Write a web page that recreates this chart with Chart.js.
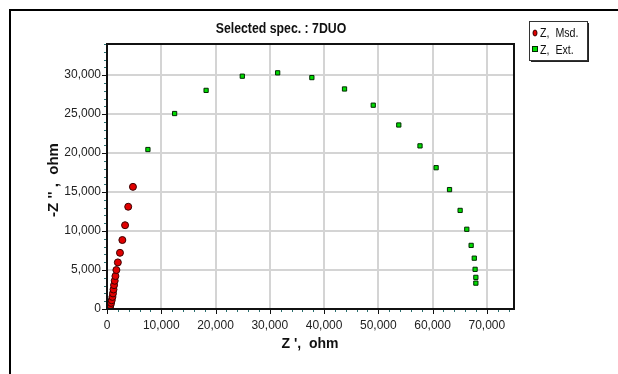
<!DOCTYPE html>
<html>
<head>
<meta charset="utf-8">
<script src="https://cdn.jsdelivr.net/npm/chart.js@4/dist/chart.umd.min.js"></script>
<style>
  html, body { margin: 0; padding: 0; background: #fff; }
  #wrap { width: 618px; height: 374px; }
</style>
</head>
<body>
<div id="wrap"><canvas id="nyquist" width="618" height="374"></canvas></div>
<script>
// measured impedance, ohm
const msdRe = [450, 520, 630, 750, 870, 1000, 1100, 1200, 1300, 1420, 1550, 1730, 2000, 2390, 2830, 3330, 3910, 4780];
const msdIm = [120, 260, 480, 780, 1120, 1550, 2000, 2500, 3060, 3620, 4220, 5000, 5980, 7210, 8850, 10750, 13120, 15670];
// extrapolated / fitted impedance, ohm
const extRe = [7540, 12460, 18260, 24930, 31450, 37750, 43770, 49060, 53770, 57680, 60650, 63120, 65070, 66300, 67100, 67680, 67830, 67970, 67970];
const extIm = [20460, 25080, 28050, 29870, 30300, 29690, 28230, 26150, 23610, 20930, 18130, 15320, 12650, 10230, 8160, 6520, 5090, 4060, 3320];

// axis ticks
const xMajorTicks = [0, 10000, 20000, 30000, 40000, 50000, 60000, 70000];
const yMajorTicks = [0, 5000, 10000, 15000, 20000, 25000, 30000];
const xMinorStep = 2000;
const yMinorStep = 1000;
const xMax = 75000;
const yMax = 34000;

const titleText = "Selected spec. : 7DUO";
const xTitle = "Z ',  ohm";
const yTitle = "-Z '' ,  ohm";
const legendLabels = ["Z,  Msd.", "Z,  Ext."];

const SANS = "'Liberation Sans', Arial, sans-serif";

function toPoints(xs, ys){
    return xs.map((x, i) => ({x: x, y: ys[i]}));
}

// draw text squeezed horizontally to look like a narrow face
function narrowText(ctx, text, x, y, squeeze){
    ctx.save();
    ctx.translate(x, y);
    ctx.scale(squeeze, 1);
    ctx.fillText(text, 0, 0);
    ctx.restore();
}

// frame, titles, tick marks and legend box
const decorations = {
    id: "decorations",
    afterDraw(chart){
        const ctx = chart.ctx;
        const a = chart.chartArea;
        const xs = chart.scales.x, ys = chart.scales.y;
        ctx.save();

        // outer frame (top + left edges only visible)
        ctx.strokeStyle = "#000";
        ctx.lineWidth = 2;
        ctx.beginPath();
        ctx.moveTo(10, 374);
        ctx.lineTo(10, 10);
        ctx.lineTo(618, 10);
        ctx.stroke();

        // x tick marks
        for(let v = 0; v <= xMax; v += xMinorStep){
            let px = xs.getPixelForValue(v);
            let major = xMajorTicks.includes(v);
            ctx.strokeStyle = major ? "#111" : "#2b7070";
            ctx.lineWidth = 1;
            ctx.beginPath();
            ctx.moveTo(Math.round(px) + 0.5, a.bottom);
            ctx.lineTo(Math.round(px) + 0.5, a.bottom + (major ? 5 : 3));
            ctx.stroke();
        }
        // y tick marks
        for(let v = 0; v <= yMax; v += yMinorStep){
            let py = ys.getPixelForValue(v);
            let major = yMajorTicks.includes(v);
            ctx.strokeStyle = major ? "#111" : "#2b7070";
            ctx.lineWidth = 1;
            ctx.beginPath();
            ctx.moveTo(a.left, Math.round(py) + 0.5);
            ctx.lineTo(a.left - (major ? 5 : 3), Math.round(py) + 0.5);
            ctx.stroke();
        }

        // plot border
        ctx.strokeStyle = "#111";
        ctx.lineWidth = 2;
        ctx.strokeRect(a.left, a.top, a.right - a.left, a.bottom - a.top);

        // title + axis titles
        ctx.fillStyle = "#111";
        ctx.textAlign = "center";
        ctx.textBaseline = "middle";
        ctx.font = "bold 15px " + SANS;
        narrowText(ctx, titleText, 281, 29, 0.82);
        ctx.font = "bold 14px " + SANS;
        ctx.fillText(xTitle, 310, 344);
        ctx.save();
        ctx.translate(54, 180);
        ctx.rotate(-Math.PI / 2);
        ctx.font = "bold 15px " + SANS;
        ctx.fillText(yTitle, 0, 0);
        ctx.restore();

        // legend box with shadow
        let lx = 529, ly = 21, lw = 58, lh = 39;
        ctx.fillStyle = "#222";
        ctx.fillRect(lx + 2, ly + 2, lw, lh);
        ctx.fillStyle = "#fff";
        ctx.fillRect(lx, ly, lw, lh);
        ctx.strokeStyle = "#333";
        ctx.lineWidth = 1;
        ctx.strokeRect(lx + 0.5, ly + 0.5, lw, lh);

        // legend markers
        ctx.fillStyle = "#e00000";
        ctx.strokeStyle = "#3a0000";
        ctx.beginPath();
        ctx.ellipse(535, 33, 2, 3, 0, 0, Math.PI * 2);
        ctx.fill();
        ctx.stroke();
        ctx.fillStyle = "#00dd00";
        ctx.strokeStyle = "#002a00";
        ctx.fillRect(533, 47, 4, 4);
        ctx.strokeRect(532.5, 46.5, 5, 5);

        ctx.fillStyle = "#111";
        ctx.textAlign = "left";
        ctx.font = "13px " + SANS;
        narrowText(ctx, legendLabels[0], 540, 33, 0.82);
        narrowText(ctx, legendLabels[1], 540, 50, 0.82);
        ctx.restore();
    }
};

const ctx = document.getElementById("nyquist").getContext("2d");
const chart = new Chart(ctx, {
    type: "scatter",
    data: {
        datasets: [
            {
                label: legendLabels[0],
                data: toPoints(msdRe, msdIm),
                pointStyle: "circle",
                pointRadius: 3.5,
                backgroundColor: "#e00000",
                borderColor: "#3a0000",
                borderWidth: 1
            },
            {
                label: legendLabels[1],
                data: toPoints(extRe, extIm),
                pointStyle: "rect",
                pointRadius: 3,
                backgroundColor: "#00dd00",
                borderColor: "#002a00",
                borderWidth: 1
            }
        ]
    },
    options: {
        responsive: false,
        animation: false,
        layout: { padding: { top: 44, right: 104, left: 0, bottom: 0 } },
        plugins: {
            legend: { display: false },
            title: { display: false },
            tooltip: { enabled: false }
        },
        scales: {
            x: {
                type: "linear",
                min: 0,
                max: xMax,
                border: { display: false },
                grid: { drawTicks: false, lineWidth: 2, color: "#d4d4d4" },
                ticks: {
                    autoSkip: false,
                    maxRotation: 0,
                    padding: 9,
                    color: "#222",
                    font: { family: SANS, size: 12 },
                    callback: (v) => v.toLocaleString("en-US")
                },
                afterBuildTicks: (s) => { s.ticks = xMajorTicks.map(v => ({value: v})); },
                afterFit: (s) => { s.height = 65; }
            },
            y: {
                type: "linear",
                min: 0,
                max: yMax,
                border: { display: false },
                grid: { drawTicks: false, lineWidth: 2, color: "#d4d4d4" },
                ticks: {
                    autoSkip: false,
                    padding: 6,
                    color: "#222",
                    font: { family: SANS, size: 12 },
                    callback: (v) => v.toLocaleString("en-US")
                },
                afterBuildTicks: (s) => { s.ticks = yMajorTicks.map(v => ({value: v})); },
                afterFit: (s) => { s.width = 107; }
            }
        }
    },
    plugins: [decorations]
});
</script>
</body>
</html>
